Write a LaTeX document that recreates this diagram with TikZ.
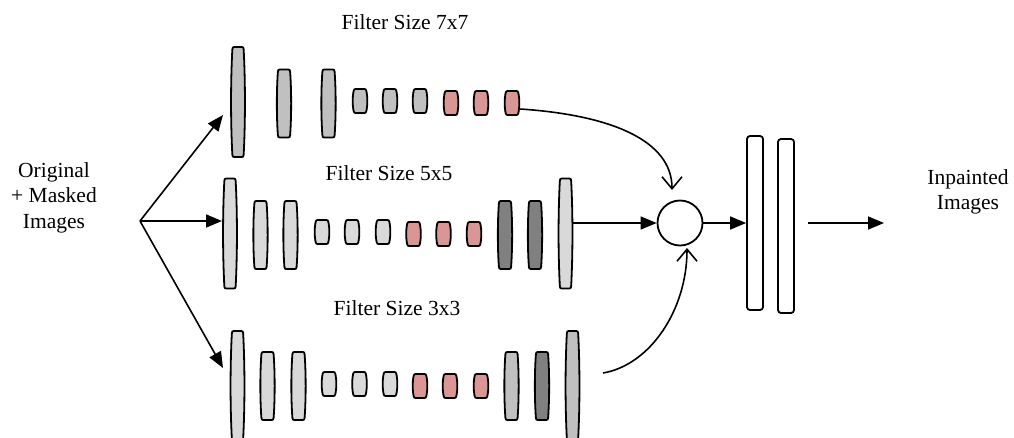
\documentclass[tikz,border=0pt]{standalone}
\usepackage{fontspec}
\setmainfont{Liberation Serif}
\usetikzlibrary{arrows.meta,calc}
\definecolor{gA}{HTML}{C0C0C0}
\definecolor{gL}{HTML}{D9D9D9}
\definecolor{gD}{HTML}{808080}
\definecolor{pk}{HTML}{D99694}
% side bulge and corner control offsets per layer style (smooth outline)
\def\lyrbbig{1.6pt}\def\lyrcbig{0.2pt}
\def\lyrbmid{1.2pt}\def\lyrcmid{0.26pt}
\def\lyrbsml{0.7pt}\def\lyrcsml{0.7pt}
% layer: style, name, position, fill
\newcommand\lyr[4]{%
  \node[#1] (#2) at (#3) {};
  \edef\lyrc{\csname lyrc#1\endcsname}%
  \edef\lyrb{\csname lyrb#1\endcsname}%
  \draw[line width=1.8pt, fill=#4]
    ([xshift=4pt]#2.north west) -- ([xshift=-4pt]#2.north east)
    .. controls ([xshift=-\lyrc]#2.north east) .. ([yshift=-4pt]#2.north east)
    .. controls ($(#2.north east)!0.33!(#2.south east)+(\lyrb,0)$) and ($(#2.north east)!0.67!(#2.south east)+(\lyrb,0)$) .. ([yshift=4pt]#2.south east)
    .. controls ([xshift=-\lyrc]#2.south east) .. ([xshift=-4pt]#2.south east)
    -- ([xshift=4pt]#2.south west)
    .. controls ([xshift=\lyrc]#2.south west) .. ([yshift=4pt]#2.south west)
    .. controls ($(#2.south west)!0.33!(#2.north west)+(-\lyrb,0)$) and ($(#2.south west)!0.67!(#2.north west)+(-\lyrb,0)$) .. ([yshift=-4pt]#2.north west)
    .. controls ([xshift=\lyrc]#2.north west) .. cycle;}
\begin{document}
\begin{tikzpicture}[x=1pt,y=-1pt,
  layer/.style={inner sep=0pt, outer sep=0pt, minimum width=11.5pt},
  big/.style={layer, minimum height=110pt},
  mid/.style={layer, minimum height=68pt, minimum width=12.5pt},
  sml/.style={layer, minimum height=24pt, minimum width=13.5pt},
  bar/.style={draw, line width=1.8pt, rounded corners=3pt, inner sep=0pt, minimum width=16pt, minimum height=174pt, fill=white},
  lab/.style={font=\fontsize{21.5}{25.5}\selectfont, align=center, inner sep=0pt},
  arr/.style={line width=1.6pt, -{Triangle[length=16pt,width=13pt]}},
  barb/.style={line width=1.6pt, -{Straight Barb[length=12pt,width=20pt,line width=1.6pt]}},
]
\useasboundingbox (0,0) rectangle (1014,437);
\clip (0,0) rectangle (1014,437);
% labels
\node[lab] (t7) at (405,22) {Filter Size 7x7};
\node[lab] (t5) at (389,173) {Filter Size 5x5};
\node[lab] (t3) at (397,308) {Filter Size 3x3};
\node[lab] (inp) at (54,197.5) {Original\\+ Masked\\Images};
\node[lab] (out) at (968,192) {Inpainted\\Images};
% row 1
\lyr{big}{a1}{238,102}{gA}
\lyr{mid}{a2}{284,103.5}{gA}
\lyr{mid}{a3}{328.5,103.5}{gA}
\lyr{sml}{a4}{360,101}{gA}
\lyr{sml}{a5}{390,101}{gA}
\lyr{sml}{a6}{420,101}{gA}
\lyr{sml}{a7}{451,103}{pk}
\lyr{sml}{a8}{481,103}{pk}
\lyr{sml}{a9}{512,103}{pk}
% row 2
\lyr{big}{b1}{230,233.5}{gL}
\lyr{mid}{b2}{260.5,235}{gL}
\lyr{mid}{b3}{290.5,235}{gL}
\lyr{sml}{b4}{322,232}{gL}
\lyr{sml}{b5}{352,232}{gL}
\lyr{sml}{b6}{383,232}{gL}
\lyr{sml}{b7}{413.5,234}{pk}
\lyr{sml}{b8}{443.5,234}{pk}
\lyr{sml}{b9}{474,234}{pk}
\lyr{mid}{b10}{505,235}{gD}
\lyr{mid}{b11}{535,235}{gD}
\lyr{big}{b12}{565.5,233.5}{gL}
% row 3
\lyr{big}{c1}{237.5,386}{gL}
\lyr{mid}{c2}{267.5,386}{gL}
\lyr{mid}{c3}{298.5,386}{gL}
\lyr{sml}{c4}{329,384}{gL}
\lyr{sml}{c5}{359.5,384}{gL}
\lyr{sml}{c6}{390,384}{gL}
\lyr{sml}{c7}{420,386}{pk}
\lyr{sml}{c8}{450,386}{pk}
\lyr{sml}{c9}{481,386}{pk}
\lyr{mid}{c10}{511.5,386}{gA}
\lyr{mid}{c11}{542,386}{gD}
\lyr{big}{c12}{572.5,386}{gA}
% merge and output
\node[draw, circle, line width=1.8pt, minimum size=45pt, inner sep=0pt] (m) at (680,223) {};
\node[bar] (d1) at (755,223) {};
\node[bar] (d2) at (786,226) {};
% coordinates
\coordinate (src) at (140,221);
\coordinate (f1) at (223,115);
\coordinate (f2) at (222,221);
\coordinate (f3) at (223,368);
\coordinate (s3) at (603,373);
\coordinate (e1) at (672,190);
\coordinate (e3) at (687,248);
\coordinate (o1) at (808,223);
\coordinate (o2) at (884,223);
% connectors
\draw[arr] (src) -- (f1);
\draw[arr] (src) -- (f2);
\draw[arr] (src) -- (f3);
\draw[barb] ([shift={(1.5pt,-6pt)}]a9.east) .. controls (610,115) and (672,140) .. (e1);
\draw[barb] (s3) .. controls (650,365) and (687,310) .. (e3);
\draw[arr] ([xshift=1.5pt]b12.east |- m.west) -- (m.west);
\draw[arr] (m.east) -- (d1.west);
\draw[arr] (o1) -- (o2);
\end{tikzpicture}
\end{document}
